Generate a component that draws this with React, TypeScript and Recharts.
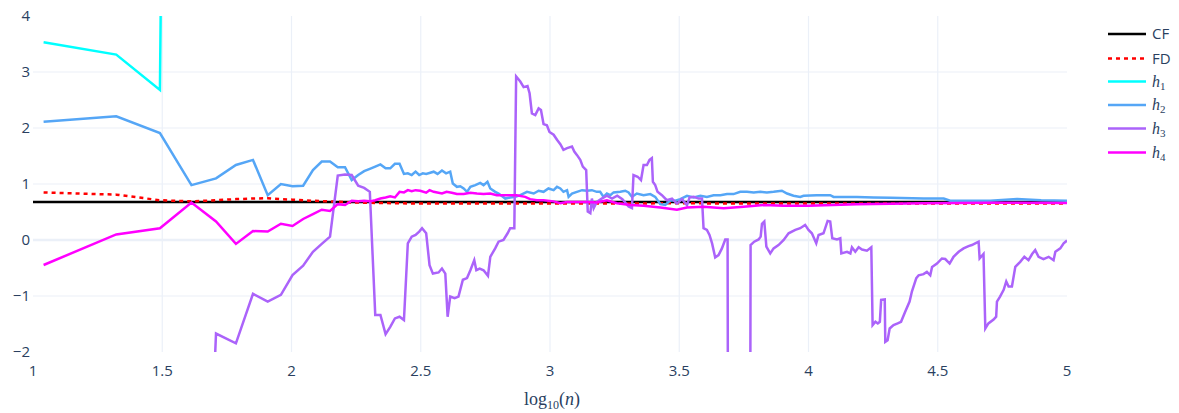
import React from 'react';
import { LineChart, Line, XAxis, YAxis, CartesianGrid, ReferenceLine } from 'recharts';

type Pt = [number, number];

// x = log10(n), y = estimate
const cfPoints: Pt[] = [[1, 0.68], [5, 0.68]];

const fdPoints: Pt[] = [
  [1.041, 0.85], [1.322, 0.81], [1.491, 0.71], [1.613, 0.69], [1.708, 0.71], [1.785, 0.73],
  [1.851, 0.74], [1.908, 0.745], [1.959, 0.73], [2.004, 0.72], [2.045, 0.71], [2.083, 0.7],
  [2.149, 0.69], [2.233, 0.67], [2.35, 0.66], [2.5, 0.65], [3, 0.65], [3.5, 0.655], [4, 0.65],
  [4.5, 0.65], [5, 0.65],
];

const h1Points: Pt[] = [[1.041, 3.53], [1.322, 3.31], [1.491, 2.68], [1.613, 60]];

const h2Points: Pt[] = [
  [1.041, 2.11], [1.322, 2.21], [1.491, 1.91], [1.613, 0.98], [1.708, 1.1], [1.785, 1.34],
  [1.851, 1.43], [1.908, 0.8], [1.959, 1.0], [2.004, 0.96], [2.045, 0.97], [2.083, 1.25],
  [2.117, 1.4], [2.149, 1.4], [2.179, 1.3], [2.207, 1.3], [2.233, 1.07], [2.258, 1.16],
  [2.281, 1.23], [2.303, 1.27], [2.324, 1.31], [2.344, 1.35], [2.364, 1.28], [2.382, 1.28],
  [2.4, 1.36], [2.418, 1.36], [2.435, 1.18], [2.45, 1.19], [2.465, 1.16], [2.48, 1.22],
  [2.494, 1.16], [2.508, 1.19], [2.521, 1.18], [2.55, 1.22], [2.565, 1.18], [2.582, 1.24],
  [2.598, 1.19], [2.614, 1.22], [2.624, 1.01], [2.64, 0.95], [2.653, 0.96], [2.666, 0.92],
  [2.679, 0.86], [2.692, 0.95], [2.711, 0.98], [2.73, 1.02], [2.743, 0.98], [2.758, 1.04],
  [2.769, 0.92], [2.788, 0.86], [2.801, 0.83], [2.827, 0.74], [2.846, 0.76], [2.866, 0.77],
  [2.885, 0.8], [2.911, 0.86], [2.937, 0.83], [2.956, 0.88], [2.975, 0.86], [2.994, 0.92],
  [3.014, 0.89], [3.027, 0.95], [3.04, 0.92], [3.052, 0.86], [3.066, 0.89], [3.072, 0.77],
  [3.085, 0.83], [3.104, 0.86], [3.124, 0.89], [3.143, 0.88], [3.162, 0.89], [3.181, 0.86],
  [3.194, 0.86], [3.207, 0.77], [3.22, 0.83], [3.233, 0.8], [3.246, 0.85], [3.272, 0.86],
  [3.291, 0.88], [3.304, 0.85], [3.317, 0.77], [3.336, 0.83], [3.362, 0.8], [3.388, 0.82],
  [3.407, 0.77], [3.427, 0.64], [3.446, 0.625], [3.466, 0.71], [3.485, 0.7], [3.504, 0.73],
  [3.53, 0.79], [3.556, 0.76], [3.582, 0.79], [3.607, 0.77], [3.633, 0.8], [3.659, 0.8],
  [3.685, 0.82], [3.71, 0.82], [3.736, 0.86], [3.762, 0.86], [3.788, 0.85], [3.814, 0.86],
  [3.839, 0.85], [3.865, 0.86], [3.897, 0.88], [3.917, 0.83], [3.942, 0.79], [3.968, 0.77],
  [3.981, 0.79], [4.032, 0.8], [4.084, 0.8], [4.097, 0.77], [4.187, 0.77], [4.252, 0.76],
  [4.316, 0.755], [4.445, 0.74], [4.523, 0.74], [4.548, 0.7], [4.639, 0.7], [4.703, 0.7],
  [4.807, 0.73], [4.9, 0.71], [5, 0.7],
];

const h3Points: Pt[] = [
  [1.613, -12], [1.708, -1.67], [1.785, -1.845], [1.851, -0.96], [1.908, -1.1], [1.959, -0.98],
  [2.004, -0.625], [2.045, -0.46], [2.083, -0.21], [2.117, -0.07], [2.149, 0.06], [2.179, 1.15],
  [2.207, 1.17], [2.233, 1.16], [2.258, 0.97], [2.281, 0.93], [2.303, 0.86], [2.324, -1.34],
  [2.344, -1.34], [2.364, -1.68], [2.382, -1.55], [2.4, -1.4], [2.418, -1.37], [2.435, -1.43],
  [2.45, -0.06], [2.465, 0.06], [2.48, 0.09], [2.494, 0.15], [2.505, 0.21], [2.521, 0.12],
  [2.534, -0.45], [2.547, -0.6], [2.569, -0.58], [2.582, -0.51], [2.595, -0.6], [2.604, -1.37],
  [2.614, -1.01], [2.631, -1.04], [2.646, -1.01], [2.663, -0.71], [2.679, -0.68], [2.692, -0.54],
  [2.707, -0.36], [2.715, -0.54], [2.728, -0.51], [2.743, -0.54], [2.76, -0.64], [2.769, -0.3],
  [2.788, -0.15], [2.801, -0.03], [2.82, 0.0], [2.836, 0.12], [2.846, 0.21], [2.862, 0.21],
  [2.869, 2.92], [2.885, 2.83], [2.898, 2.73], [2.913, 2.75], [2.921, 2.62], [2.93, 2.26],
  [2.943, 2.23], [2.956, 2.35], [2.965, 2.32], [2.975, 2.07], [2.988, 2.05], [2.998, 1.93],
  [3.014, 1.88], [3.027, 1.79], [3.04, 1.71], [3.052, 1.61], [3.066, 1.64], [3.085, 1.67],
  [3.094, 1.58], [3.104, 1.52], [3.117, 1.43], [3.127, 1.31], [3.14, 1.25], [3.146, 0.51],
  [3.156, 0.48], [3.162, 0.74], [3.169, 0.57], [3.181, 0.68], [3.2, 0.74], [3.22, 0.79],
  [3.24, 0.74], [3.26, 0.79], [3.28, 0.73], [3.304, 0.6], [3.317, 0.57], [3.323, 1.16],
  [3.339, 1.13], [3.352, 1.07], [3.362, 1.34], [3.375, 1.34], [3.385, 1.43], [3.394, 1.46],
  [3.398, 1.04], [3.407, 0.98], [3.416, 0.86], [3.433, 0.8], [3.452, 0.71], [3.472, 0.74],
  [3.491, 0.65], [3.511, 0.73], [3.53, 0.62], [3.54, 0.76], [3.556, 0.77], [3.575, 0.74],
  [3.588, 0.74], [3.594, 0.21], [3.607, 0.18], [3.617, 0.09], [3.627, -0.06], [3.639, -0.31],
  [3.652, -0.27], [3.665, -0.15], [3.678, 0.01], [3.687, 0.01], [3.692, -12], [3.771, -12],
  [3.776, -0.09], [3.79, -0.03], [3.807, 0.01], [3.815, 0.06], [3.82, 0.29], [3.829, 0.33],
  [3.837, -0.12], [3.852, -0.24], [3.865, -0.15], [3.884, -0.09], [3.904, 0.0], [3.923, 0.12],
  [3.949, 0.18], [3.968, 0.21], [3.987, 0.27], [4.0, 0.18], [4.013, 0.12], [4.03, -0.06],
  [4.039, 0.09], [4.058, 0.12], [4.074, 0.34], [4.084, 0.33], [4.092, 0.03], [4.11, 0.01],
  [4.123, 0.03], [4.127, -0.24], [4.149, -0.21], [4.162, -0.24], [4.168, -0.13], [4.181, -0.21],
  [4.194, -0.13], [4.207, -0.17], [4.226, -0.19], [4.243, -0.13], [4.248, -1.52], [4.259, -1.46],
  [4.268, -1.49], [4.276, -1.46], [4.281, -1.07], [4.295, -1.06], [4.297, -1.82], [4.306, -1.79],
  [4.314, -1.58], [4.329, -1.52], [4.345, -1.49], [4.358, -1.46], [4.374, -1.28], [4.391, -1.1],
  [4.4, -0.92], [4.417, -0.68], [4.426, -0.63], [4.445, -0.61], [4.458, -0.57], [4.471, -0.63],
  [4.478, -0.48], [4.497, -0.42], [4.516, -0.33], [4.529, -0.34], [4.546, -0.42], [4.561, -0.3],
  [4.581, -0.21], [4.6, -0.15], [4.619, -0.11], [4.632, -0.09], [4.645, -0.06], [4.658, -0.03],
  [4.662, -0.33], [4.677, -0.25], [4.684, -1.58], [4.696, -1.49], [4.716, -1.42], [4.726, -1.37],
  [4.729, -1.1], [4.741, -1.01], [4.755, -0.89], [4.765, -0.74], [4.774, -0.83], [4.787, -0.83],
  [4.8, -0.48], [4.819, -0.39], [4.835, -0.3], [4.851, -0.36], [4.865, -0.25], [4.877, -0.18],
  [4.89, -0.3], [4.909, -0.34], [4.929, -0.3], [4.948, -0.36], [4.955, -0.21], [4.974, -0.15],
  [4.987, -0.06], [5, -0.01],
];

const h4Points: Pt[] = [
  [1.041, -0.446], [1.322, 0.1], [1.491, 0.21], [1.613, 0.67], [1.708, 0.33], [1.785, -0.07],
  [1.851, 0.16], [1.908, 0.15], [1.959, 0.29], [2.004, 0.25], [2.045, 0.375], [2.083, 0.46],
  [2.117, 0.54], [2.149, 0.52], [2.179, 0.64], [2.207, 0.625], [2.233, 0.7], [2.258, 0.69],
  [2.281, 0.7], [2.303, 0.69], [2.324, 0.71], [2.344, 0.74], [2.364, 0.76], [2.382, 0.78],
  [2.4, 0.76], [2.418, 0.86], [2.435, 0.85], [2.45, 0.89], [2.465, 0.87], [2.48, 0.89],
  [2.498, 0.88], [2.521, 0.845], [2.534, 0.89], [2.55, 0.86], [2.582, 0.83], [2.6, 0.86],
  [2.62, 0.845], [2.64, 0.82], [2.666, 0.82], [2.692, 0.845], [2.717, 0.83], [2.743, 0.82],
  [2.769, 0.83], [2.794, 0.8], [2.833, 0.8], [2.871, 0.8], [2.904, 0.77], [2.923, 0.73],
  [2.949, 0.71], [2.975, 0.71], [3.014, 0.69], [3.04, 0.655], [3.066, 0.68], [3.104, 0.68],
  [3.143, 0.68], [3.181, 0.67], [3.22, 0.71], [3.259, 0.655], [3.311, 0.625], [3.362, 0.61],
  [3.427, 0.58], [3.491, 0.54], [3.53, 0.58], [3.594, 0.595], [3.672, 0.565], [3.749, 0.595],
  [3.826, 0.625], [3.904, 0.61], [3.968, 0.61], [4, 0.61], [4.187, 0.64], [4.445, 0.655],
  [4.703, 0.665], [5, 0.66],
];

const xTicks = [1, 1.5, 2, 2.5, 3, 3.5, 4, 4.5, 5];
const yTicks = [-2, -1, 0, 1, 2, 3, 4];

const series = [
  { key: 'cf', label: 'CF', points: cfPoints, color: '#000000', dash: undefined },
  { key: 'fd', label: 'FD', points: fdPoints, color: '#ff0000', dash: '4 4' },
  { key: 'h1', label: '1', points: h1Points, color: '#00ffff', dash: undefined },
  { key: 'h2', label: '2', points: h2Points, color: '#55a6f6', dash: undefined },
  { key: 'h3', label: '3', points: h3Points, color: '#ab63fa', dash: undefined },
  { key: 'h4', label: '4', points: h4Points, color: '#ff00ff', dash: undefined },
];

const legendRows = [34, 58.5, 81.5, 105, 128.5, 152.5];

const tickStyle = { fill: '#2a3f5f', fontSize: 15, fontFamily: '"Open Sans", sans-serif' };

const App: React.FC = () => {
  return (
    <div style={{ position: 'absolute', left: 0, top: 0, width: 1179, height: 413, background: '#fff' }}>
      <LineChart width={1179} height={413} margin={{ top: 16, right: 112, bottom: 31, left: 0 }}>
        <CartesianGrid
          stroke="#ebf0f8"
          strokeWidth={1.2}
          horizontalValues={[-1, 0, 1, 2, 3]}
          verticalValues={[1.5, 2, 2.5, 3, 3.5, 4, 4.5]}
        />
        <ReferenceLine y={0} stroke="#ebf0f8" strokeWidth={2.5} />
        <XAxis
          type="number"
          dataKey="x"
          domain={[1, 5]}
          allowDataOverflow
          ticks={xTicks}
          height={30}
          axisLine={false}
          tickLine={false}
          tickSize={0}
          tickMargin={13}
          tick={tickStyle}
        />
        <YAxis
          type="number"
          dataKey="y"
          domain={[-2, 4]}
          allowDataOverflow
          ticks={yTicks}
          width={33}
          axisLine={false}
          tickLine={false}
          tickSize={0}
          tickMargin={3}
          tick={tickStyle}
          tickFormatter={(v: number) => String(v).replace('-', '\u2212')}
        />
        {series.map((s) => (
          <Line
            key={s.key}
            data={s.points.map(([x, y]) => ({ x, y }))}
            dataKey="y"
            type="linear"
            stroke={s.color}
            strokeWidth={2.5}
            strokeDasharray={s.dash}
            dot={false}
            activeDot={false}
            isAnimationActive={false}
          />
        ))}
      </LineChart>
      <svg
        width={1179}
        height={413}
        style={{ position: 'absolute', left: 0, top: 0, pointerEvents: 'none' }}
      >
        {series.map((s, i) => {
          const y = legendRows[i];
          return (
            <g key={s.key}>
              <line x1={1108} x2={1146} y1={y} y2={y} stroke={s.color} strokeWidth={2.5} strokeDasharray={s.dash} />
              {s.key === 'cf' || s.key === 'fd' ? (
                <text x={1152} y={y + 5} fill="#2a3f5f" fontSize={15} fontFamily='"Open Sans", sans-serif'>
                  {s.label}
                </text>
              ) : (
                <text x={1152} y={y + 5} fill="#2a3f5f" fontFamily='"Liberation Serif", "DejaVu Serif", serif'>
                  <tspan fontSize={16} fontStyle="italic">h</tspan>
                  <tspan fontSize={11} dy={3}>{s.label}</tspan>
                </text>
              )}
            </g>
          );
        })}
        <text x={552} y={405} textAnchor="middle" fill="#2a3f5f" fontFamily='"Liberation Serif", "DejaVu Serif", serif'>
          <tspan fontSize={18}>log</tspan>
          <tspan fontSize={12} dy={4}>10</tspan>
          <tspan fontSize={18} dy={-4}>(</tspan>
          <tspan fontSize={18} fontStyle="italic">n</tspan>
          <tspan fontSize={18}>)</tspan>
        </text>
      </svg>
    </div>
  );
};

export default App;
